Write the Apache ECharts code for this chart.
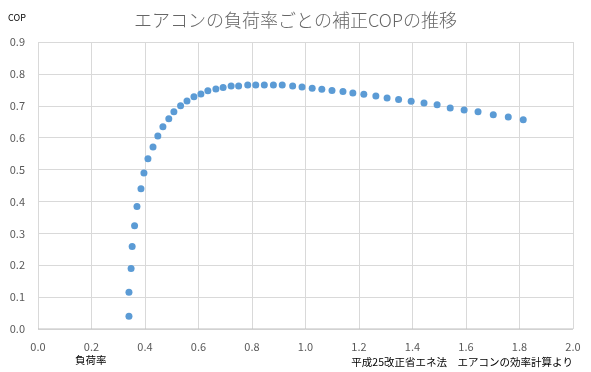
<!DOCTYPE html>
<html><head><meta charset="utf-8">
<script src="https://cdn.jsdelivr.net/npm/echarts@6/dist/echarts.min.js"></script>
<style>html,body{margin:0;padding:0;background:#fff}#c{width:591px;height:372px}</style>
</head><body><div id="c"></div>
<script>
const loadRatio = [0.340,0.340,0.348,0.352,0.361,0.370,0.385,0.396,0.411,0.430,0.448,0.467,0.489,0.508,0.533,0.557,0.583,0.609,0.635,0.665,0.692,0.722,0.750,0.784,0.814,0.846,0.880,0.913,0.952,0.987,1.025,1.061,1.099,1.140,1.177,1.218,1.263,1.305,1.348,1.395,1.443,1.492,1.541,1.593,1.645,1.702,1.758,1.814];
const cop = [0.040,0.115,0.190,0.259,0.324,0.384,0.440,0.489,0.534,0.571,0.605,0.634,0.659,0.681,0.700,0.715,0.728,0.737,0.747,0.753,0.757,0.762,0.762,0.765,0.765,0.765,0.765,0.765,0.762,0.759,0.755,0.752,0.748,0.745,0.740,0.736,0.731,0.724,0.720,0.714,0.709,0.703,0.693,0.687,0.681,0.672,0.665,0.656];
const titleText = 'エアコンの負荷率ごとの補正COPの推移';
const yName = 'COP';
const xName = '負荷率';
const sourceText = '平成25改正省エネ法　エアコンの効率計算より';

const font = '"Noto Sans CJK JP","Noto Sans",sans-serif';
const chart = echarts.init(document.getElementById('c'), null, {renderer:'canvas'});
chart.setOption({
  animation:false,
  title:{text:titleText,left:'center',top:6,textStyle:{fontFamily:font,fontSize:18,fontWeight:300,color:'#666666'}},
  graphic:[
    {type:'text',left:8,top:13,style:{text:yName,fontFamily:font,fontSize:9,fill:'#000'}},
    {type:'text',left:75,top:355,style:{text:xName,fontFamily:font,fontSize:10.5,fill:'#000'}},
    {type:'text',right:18,top:357,style:{text:sourceText,fontFamily:font,fontSize:10.5,fill:'#000'}}
  ],
  grid:{left:38,right:18,top:42,bottom:43,containLabel:false},
  xAxis:{type:'value',min:0,max:2,interval:0.2,
    axisLine:{show:false},axisTick:{show:false},
    splitLine:{show:true,lineStyle:{color:'#d9d9d9',width:1}},
    axisLabel:{margin:12,color:'#595959',fontSize:11,fontFamily:font,formatter:v=>v.toFixed(1)}},
  yAxis:{type:'value',min:0,max:0.9,interval:0.1,
    axisLine:{show:false},axisTick:{show:false},
    splitLine:{show:true,lineStyle:{color:'#d9d9d9',width:1}},
    axisLabel:{margin:13,color:'#595959',fontSize:11,fontFamily:font,formatter:v=>v.toFixed(1)}},
  series:[
    {type:'scatter',data:loadRatio.map((x,i)=>[x,cop[i]]),symbolSize:7,itemStyle:{color:'#5b9bd5',opacity:1}},
    {type:'line',data:[[0,0],[2,0]],symbol:'none',silent:true,lineStyle:{color:'#bfbfbf',width:1}}
  ]
});
</script></body></html>
